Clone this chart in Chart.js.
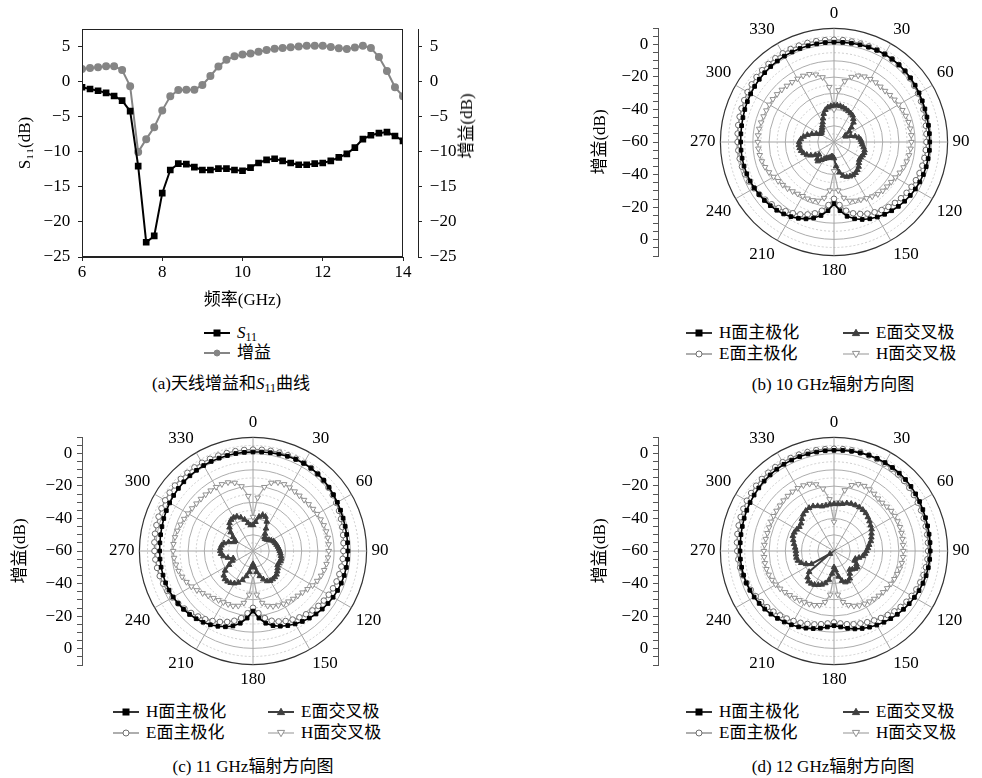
<!DOCTYPE html>
<html lang="zh">
<head>
<meta charset="utf-8">
<title>天线增益和辐射方向图</title>
<script src="https://cdn.jsdelivr.net/npm/chart.js@4.4.1/dist/chart.umd.min.js"></script>
<style>
  html, body { margin: 0; padding: 0; background: #fff; }
  body { position: relative; width: 982px; height: 778px; overflow: hidden;
         font-family: 'Liberation Serif', 'Noto Sans CJK SC', serif; color: #000; }
  canvas { position: absolute; }
  .cap, .leg, .vt { position: absolute; font-size: 17px; line-height: 18px; white-space: nowrap; }
  .cap { transform: translateX(-50%); }
  .leg { display: flex; align-items: center; }
  .leg svg { margin-right: 7px; flex: none; }
  .vt { transform: translate(-50%, -50%) rotate(-90deg); }
  sub { font-size: 12px; vertical-align: -3px; line-height: 0; }
</style>
</head>
<body>
<canvas id="chartA" width="490" height="309" style="left:0;top:11px"></canvas>
<div class="vt" style="left:467px;top:126px">增益(dB)</div>
<div class="cap" style="left:231px;top:375px">(a)天线增益和<i>S</i><sub>11</sub>曲线</div>

<canvas id="axisB" width="90" height="258" style="left:570px;top:13px"></canvas>
<canvas id="polarB" width="296" height="278" style="left:682px;top:3px"></canvas>
<div class="cap" style="left:833px;top:376px">(b) 10 GHz辐射方向图</div>

<canvas id="axisC" width="84" height="258" style="left:0;top:422px"></canvas>
<canvas id="polarC" width="296" height="278" style="left:101px;top:412px"></canvas>
<div class="cap" style="left:253px;top:758px">(c) 11 GHz辐射方向图</div>

<canvas id="axisD" width="90" height="258" style="left:570px;top:422px"></canvas>
<canvas id="polarD" width="296" height="278" style="left:682px;top:412px"></canvas>
<div class="cap" style="left:833px;top:758px">(d) 12 GHz辐射方向图</div>

<script>
// (a) S11 and gain versus frequency
const freq = [6.0, 6.2, 6.4, 6.6, 6.8, 7.0, 7.2, 7.4, 7.6, 7.8, 8.0, 8.2, 8.4, 8.6, 8.8, 9.0, 9.2, 9.4, 9.6, 9.8,
  10.0, 10.2, 10.4, 10.6, 10.8, 11.0, 11.2, 11.4, 11.6, 11.8, 12.0, 12.2, 12.4, 12.6, 12.8, 13.0, 13.2, 13.4, 13.6, 13.8, 14.0];
const s11 = [-0.8, -1.05, -1.3, -1.6, -2.05, -2.7, -4.2, -12.05, -22.9, -22.0, -15.9, -12.6, -11.7, -11.75, -12.2, -12.6, -12.6, -12.4, -12.4, -12.6,
  -12.7, -12.25, -11.6, -11.15, -11.0, -11.3, -11.6, -11.85, -11.85, -11.7, -11.6, -11.3, -10.8, -10.3, -9.4, -8.2, -7.65, -7.35, -7.2, -7.75, -8.45];
const gain = [1.8, 1.95, 2.05, 2.2, 2.2, 1.65, -0.65, -10.05, -8.2, -6.5, -4.1, -2.1, -1.2, -1.15, -1.15, -0.5, 0.8, 2.15, 3.1, 3.6,
  3.85, 4.0, 4.25, 4.5, 4.7, 4.8, 4.9, 5.0, 5.1, 5.1, 5.1, 4.95, 4.75, 4.65, 4.85, 5.1, 4.8, 3.5, 1.5, -0.8, -2.1];

// pattern angles (deg), one row of 12 = 60 deg
const angles = [0, 5, 10, 15, 20, 25, 30, 35, 40, 45, 50, 55,
  60, 65, 70, 75, 80, 85, 90, 95, 100, 105, 110, 115,
  120, 125, 130, 135, 140, 145, 150, 155, 160, 165, 170, 175,
  180, 185, 190, 195, 200, 205, 210, 215, 220, 225, 230, 235,
  240, 245, 250, 255, 260, 265, 270, 275, 280, 285, 290, 295,
  300, 305, 310, 315, 320, 325, 330, 335, 340, 345, 350, 355];

// 10 GHz
const hMain10 = [1.5, 1.6, 1.8, 2.0, 2.2, 2.4, 2.5, 2.4, 2.2, 1.9, 1.5, 1.0,
  0.5, 0.0, -0.4, -0.7, -0.9, -1.0, -1.0, -1.0, -1.1, -1.2, -1.4, -1.7,
  -2.1, -2.6, -3.2, -3.9, -4.7, -5.6, -6.6, -7.8, -9.2, -11, -13.5, -17.5,
  -22, -17.5, -14, -11.5, -9.6, -8.1, -6.9, -5.9, -5.1, -4.5, -4.0, -3.6,
  -3.3, -3.0, -2.8, -2.6, -2.5, -2.5, -2.5, -2.4, -2.2, -1.9, -1.5, -1.1,
  -0.7, -0.3, 0.1, 0.4, 0.7, 0.9, 1.1, 1.2, 1.3, 1.4, 1.4, 1.5];
const eMain10 = [3.0, 3.0, 2.9, 2.8, 2.7, 2.6, 2.5, 2.3, 2.0, 1.6, 1.0, 0.4,
  -0.2, -0.8, -1.4, -2.0, -2.5, -2.8, -3.0, -3.2, -3.4, -3.6, -3.9, -4.3,
  -4.8, -5.4, -6.1, -6.9, -7.8, -8.8, -10, -11.3, -12.8, -14.5, -17, -21,
  -25, -21, -17, -14.5, -12.5, -10.8, -9.3, -8.0, -6.8, -5.7, -4.7, -3.8,
  -3.0, -2.3, -1.7, -1.3, -1.0, -0.8, -0.6, -0.4, -0.1, 0.2, 0.6, 1.0,
  1.5, 1.9, 2.3, 2.6, 2.8, 3.0, 3.1, 3.2, 3.2, 3.2, 3.1, 3.0];
const eCross10 = [-37.5, -37.3, -37.5, -38, -38.5, -39, -39.5, -40, -41.5, -43, -46, -48.5,
  -52, -52, -49, -46.5, -44.5, -43.5, -43, -42.5, -41.5, -40.5, -40.2, -40.5,
  -41, -41, -40, -38.5, -37.5, -36.8, -36.5, -36.7, -37.2, -38.5, -41, -45,
  -50, -51, -51, -50, -49.5, -49, -48, -46.5, -44.5, -45.5, -48, -46,
  -43.5, -41.5, -40, -39, -38.5, -38.3, -38.5, -39.5, -41, -43, -45.5, -48,
  -50, -50.5, -50, -49.5, -48.5, -47.5, -46, -44, -41.5, -39.5, -38.3, -37.7];
const hCross10 = [-40, -28, -22, -18.5, -16.5, -15.5, -15.2, -15.2, -15.5, -15.5, -15, -14.5,
  -14, -13.5, -13, -12.5, -12.3, -12.2, -12.3, -12.6, -13, -13.6, -14.4, -15.3,
  -16.3, -17, -17.3, -17.5, -18, -19, -20, -20.8, -21.5, -22.5, -25, -30,
  -42, -30, -25, -22.5, -21.8, -21.5, -21.5, -21, -20.3, -19.5, -18.8, -18,
  -17, -15.8, -14.8, -14, -13.5, -13.2, -13, -13, -13.2, -13.5, -13.8, -14,
  -14, -14, -14.2, -14.5, -14.8, -15, -15, -15, -15.5, -17, -19.5, -26];

// 11 GHz
const hMain11 = [1.0, 1.2, 1.5, 1.8, 2.1, 2.3, 2.4, 2.3, 2.0, 1.6, 1.1, 0.5,
  0.0, -0.5, -0.9, -1.2, -1.4, -1.5, -1.5, -1.5, -1.6, -1.8, -2.1, -2.5,
  -3.0, -3.6, -4.3, -5.1, -6.0, -7.0, -8.1, -9.3, -10.7, -12.4, -14.8, -18.5,
  -23, -18.5, -14.8, -12.2, -10.3, -8.8, -7.5, -6.4, -5.5, -4.7, -4.1, -3.6,
  -3.2, -2.9, -2.7, -2.6, -2.5, -2.5, -2.5, -2.4, -2.2, -1.9, -1.5, -1.1,
  -0.7, -0.3, 0.0, 0.3, 0.5, 0.7, 0.8, 0.9, 0.9, 0.9, 1.0, 1.0];
const eMain11 = [2.5, 2.6, 2.7, 2.8, 2.8, 2.8, 2.7, 2.4, 2.0, 1.4, 0.7, 0.0,
  -0.7, -1.5, -2.3, -3.0, -3.6, -4.0, -4.3, -4.5, -4.7, -4.9, -5.2, -5.6,
  -6.1, -6.7, -7.4, -8.2, -9.1, -10.1, -11.2, -12.4, -13.8, -15.5, -18, -21.5,
  -25, -21.5, -18, -15.5, -13.5, -11.8, -10.2, -8.7, -7.3, -6.0, -4.8, -3.7,
  -2.7, -1.8, -1.1, -0.5, 0.0, 0.4, 0.7, 1.0, 1.3, 1.6, 1.9, 2.2,
  2.5, 2.7, 2.8, 2.9, 2.9, 2.9, 2.8, 2.7, 2.6, 2.5, 2.5, 2.5];
const eCross11 = [-44, -42, -38.5, -37, -37.5, -40, -44, -47, -49, -49.5, -49, -48,
  -47, -46, -45.5, -45, -44.5, -44, -43.5, -43, -42.5, -42, -42, -42.5,
  -42.5, -41.5, -40.5, -39.5, -39, -38.8, -38.8, -39.5, -41.5, -44, -47, -50,
  -52, -50, -47, -44, -41, -38.5, -37, -36, -35.5, -35.5, -36.5, -39,
  -43, -46, -47, -44, -41.5, -40.2, -39.8, -39.8, -40.3, -41.5, -44, -47,
  -47.5, -45, -42, -39.5, -37.5, -36.5, -36.2, -36.5, -38, -40, -42.5, -44];
const hCross11 = [-39, -27, -20, -16.5, -15, -14.6, -14.8, -15.2, -15.5, -15.5, -15.2, -14.8,
  -14.4, -14, -13.6, -13.3, -13.2, -13.2, -13.3, -13.6, -14, -14.6, -15.4, -16.4,
  -17.6, -19, -20.2, -21, -21.5, -22, -22.5, -23, -23.8, -25, -27.5, -33,
  -45, -33, -27.5, -25, -24, -23.8, -23.5, -23, -22.2, -21, -19.5, -17.8,
  -16.2, -14.8, -13.5, -12.5, -11.8, -11.2, -10.8, -10.8, -11.2, -11.8, -12.5, -13.2,
  -13.8, -14.2, -14.5, -14.6, -14.6, -14.5, -14.5, -14.6, -15, -16.5, -19.5, -26];

// 12 GHz
const hMain12 = [2.0, 2.2, 2.4, 2.6, 2.8, 2.9, 2.9, 2.8, 2.6, 2.3, 1.9, 1.4,
  0.9, 0.4, 0.0, -0.3, -0.5, -0.6, -0.7, -0.8, -1.0, -1.3, -1.7, -2.2,
  -2.8, -3.4, -4.1, -4.8, -5.6, -6.4, -7.3, -8.2, -9.2, -10.3, -11.6, -13,
  -14, -13, -11.7, -10.5, -9.4, -8.4, -7.5, -6.6, -5.8, -5.0, -4.3, -3.7,
  -3.2, -2.8, -2.5, -2.3, -2.2, -2.1, -2.1, -2.0, -1.8, -1.5, -1.1, -0.7,
  -0.3, 0.1, 0.5, 0.9, 1.2, 1.5, 1.7, 1.8, 1.9, 1.9, 1.9, 2.0];
const eMain12 = [3.0, 3.0, 3.0, 2.9, 2.7, 2.5, 2.2, 1.9, 1.5, 1.1, 0.6, 0.1,
  -0.4, -0.8, -1.2, -1.5, -1.7, -1.9, -2.0, -2.2, -2.5, -2.9, -3.4, -4.0,
  -4.7, -5.5, -6.4, -7.4, -8.5, -9.6, -10.6, -11.6, -12.5, -13.3, -14.2, -15.2,
  -16, -15.2, -14.2, -13.2, -12.2, -11.2, -10.2, -9.2, -8.2, -7.2, -6.2, -5.2,
  -4.3, -3.4, -2.6, -1.9, -1.3, -0.8, -0.4, 0.0, 0.4, 0.8, 1.2, 1.6,
  2.0, 2.3, 2.6, 2.8, 3.0, 3.1, 3.2, 3.2, 3.2, 3.1, 3.1, 3.0];
const eCross12 = [-31, -31, -30.5, -29.5, -29, -28.8, -28.8, -29, -29.5, -30.5, -31.5, -32.5,
  -33.2, -34.5, -35.5, -36.5, -38, -39, -40, -40.8, -42, -44, -46, -46,
  -44, -42.5, -43, -44, -45, -43, -40.5, -39.5, -39.5, -41, -44, -48,
  -50, -46, -42, -39.5, -38, -37, -36, -35.5, -35.5, -37, -40, -57,
  -44, -41, -38.5, -37, -36.5, -36.5, -36.5, -36, -35, -34, -33, -33,
  -33.5, -34, -33.5, -32, -30.5, -29.7, -29.3, -29.5, -30.5, -31.5, -31.5, -31.2];
const hCross12 = [-42, -30, -22, -18, -16.2, -15.8, -16.2, -17, -17.8, -18, -17.5, -17,
  -16.8, -16.8, -16.8, -17, -17.2, -17.3, -17.3, -17.3, -17.5, -18, -18.5, -19,
  -19.5, -20, -20.5, -21, -21.5, -22, -22.5, -23, -24, -25.5, -28, -33,
  -45, -33, -28, -25.5, -24.5, -24, -23.5, -23, -22.3, -21.5, -20.5, -19.5,
  -18.5, -17.8, -17.2, -16.9, -16.8, -16.8, -16.8, -17, -17.3, -17.5, -17.5, -17.3,
  -17, -16.8, -16.5, -16, -15.7, -15.4, -15.3, -15.4, -16, -17.5, -21, -28];

const curveNames = ['S11', '增益'];
const patternNames = ['H面主极化', 'E面交叉极', 'E面主极化', 'H面交叉极'];

const FONT = "'Liberation Serif', 'Noto Sans CJK SC', serif";
Chart.defaults.font.family = FONT;
Chart.defaults.font.size = 17;
Chart.defaults.color = '#000';

const minus = (v) => (v < 0 ? '\u2212' + Math.abs(v) : String(v));

// series look, shared by the charts and the html legends
const look = {
  'S11':      { line: '#000', lw: 2, shape: 'rect', fill: '#000', stroke: '#000' },
  '增益':      { line: '#858585', lw: 2, shape: 'circle', fill: '#858585', stroke: '#858585' },
  'H面主极化': { line: '#000', lw: 1.6, shape: 'rect', fill: '#000', stroke: '#000' },
  'E面主极化': { line: '#8c8c8c', lw: 1.4, shape: 'circle', fill: '#fff', stroke: '#6e6e6e' },
  'E面交叉极': { line: '#3f3f3f', lw: 2, shape: 'up', fill: '#3f3f3f', stroke: '#3f3f3f' },
  'H面交叉极': { line: '#a6a6a6', lw: 1.2, shape: 'down', fill: '#fff', stroke: '#909090' }
};

const frame = {
  id: 'frame',
  afterDraw(chart) {
    const { ctx, chartArea: a } = chart;
    ctx.save();
    ctx.strokeStyle = '#222';
    ctx.lineWidth = 1;
    ctx.strokeRect(Math.round(a.left) + 0.5, Math.round(a.top) + 0.5,
      Math.round(a.right - a.left) - 1, Math.round(a.bottom - a.top) - 1);
    ctx.restore();
  }
};

const axisGrid = { drawOnChartArea: false, tickLength: 4, color: '#222' };

new Chart(document.getElementById('chartA'), {
  type: 'line',
  data: {
    datasets: [
      {
        label: curveNames[0], yAxisID: 'y',
        data: freq.map((f, i) => ({ x: f, y: s11[i] })),
        borderColor: look['S11'].line, backgroundColor: look['S11'].fill,
        borderWidth: 2, pointStyle: 'rect', pointRadius: 3.3, tension: 0
      },
      {
        label: curveNames[1], yAxisID: 'yG',
        data: freq.map((f, i) => ({ x: f, y: gain[i] })),
        borderColor: look['增益'].line, backgroundColor: look['增益'].fill,
        borderWidth: 2, pointStyle: 'circle', pointRadius: 3, tension: 0
      }
    ]
  },
  options: {
    responsive: false, animation: false, devicePixelRatio: 1,
    layout: { padding: 0 },
    plugins: { legend: { display: false }, tooltip: { enabled: false } },
    scales: {
      x: {
        type: 'linear', min: 6, max: 14,
        ticks: { stepSize: 2, padding: 1 },
        grid: axisGrid, border: { color: '#222' },
        title: { display: true, text: '频率(GHz)', padding: { top: 0, bottom: 9 } },
        afterFit: (s) => { s.height = 63; }
      },
      y: {
        position: 'left', min: -25, max: 7.5,
        ticks: { stepSize: 5, includeBounds: false, padding: 7.8, callback: minus },
        grid: axisGrid, border: { color: '#222' },
        title: { display: true, text: 'S₁₁(dB)', padding: { top: 15 } },
        afterFit: (s) => { s.width = 82; }
      },
      gap: {
        position: 'right',
        ticks: { display: false }, grid: { display: false }, border: { display: false },
        afterFit: (s) => { s.width = 15; }
      },
      yG: {
        position: 'right', min: -25, max: 7.5,
        ticks: { stepSize: 5, includeBounds: false, padding: 7.8, callback: minus },
        grid: axisGrid, border: { color: '#222' },
        afterFit: (s) => { s.width = 72; }
      }
    }
  },
  plugins: [frame]
});

function gainAxis(id, axisWidth, titlePad) {
  new Chart(document.getElementById(id), {
    type: 'line',
    data: { datasets: [] },
    options: {
      responsive: false, animation: false, devicePixelRatio: 1,
      layout: { padding: 0 },
      plugins: { legend: { display: false }, tooltip: { enabled: false } },
      scales: {
        x: { display: false },
        y: {
          min: -70, max: 70,
          ticks: {
            stepSize: 5, autoSkip: false, padding: 4.8,
            callback: (v) => (v % 20 === 0 ? minus(Math.abs(v) - 60) : '')
          },
          grid: { drawOnChartArea: false, tickLength: 5, color: '#555' },
          border: { color: '#555' },
          title: { display: true, text: '增益(dB)', padding: { top: titlePad } },
          afterFit: (s) => { s.width = axisWidth; }
        }
      }
    }
  });
}

function ring(name, values) {
  const s = look[name];
  const shape = s.shape === 'up' || s.shape === 'down' ? 'triangle' : s.shape;
  return {
    label: name, data: values, fill: false, tension: 0,
    borderColor: s.line, borderWidth: s.lw,
    pointStyle: shape, pointRotation: s.shape === 'down' ? 180 : 0,
    pointRadius: shape === 'triangle' ? 3.2 : (shape === 'rect' ? 2.6 : 2.8),
    pointBackgroundColor: s.fill, pointBorderColor: s.stroke, pointBorderWidth: 1
  };
}

function pattern(id, hM, eX, eM, hX) {
  new Chart(document.getElementById(id), {
    type: 'radar',
    data: {
      labels: angles.map(String),
      datasets: [
        ring(patternNames[0], hM),
        ring(patternNames[2], eM),
        ring(patternNames[1], eX),
        ring(patternNames[3], hX)
      ]
    },
    options: {
      responsive: false, animation: false, devicePixelRatio: 1,
      plugins: { legend: { display: false }, tooltip: { enabled: false } },
      scales: {
        r: {
          min: -60, max: 10, startAngle: 0,
          ticks: { display: false, stepSize: 5 },
          grid: {
            circular: true,
            color: (c) => (!c.tick ? '#bbb' : c.tick.value === 10 ? '#333' : (c.tick.value % 10 === 0 ? '#acacac' : '#cdcdcd')),
            lineWidth: (c) => (c.tick && c.tick.value === 10 ? 1.2 : 1)
          },
          border: { dash: (c) => (c.tick && c.tick.value % 10 !== 0 ? [2, 2] : []) },
          angleLines: { color: '#a4a4a4', lineWidth: (c) => (c.index % 6 === 0 ? 1 : 0) },
          pointLabels: {
            padding: 5, color: '#000', font: { size: 17 },
            callback: (label, i) => (i % 6 === 0 ? label : '')
          }
        }
      }
    }
  });
}

function glyph(name) {
  const s = look[name];
  let m = '';
  if (s.shape === 'rect') m = `<rect x="10" y="3" width="6" height="6" fill="${s.fill}" stroke="${s.stroke}"/>`;
  if (s.shape === 'circle') m = `<circle cx="13" cy="6" r="3" fill="${s.fill}" stroke="${s.stroke}"/>`;
  if (s.shape === 'up') m = `<polygon points="13,2.3 16.6,8.6 9.4,8.6" fill="${s.fill}" stroke="${s.stroke}"/>`;
  if (s.shape === 'down') m = `<polygon points="13,9.7 16.6,3.4 9.4,3.4" fill="${s.fill}" stroke="${s.stroke}"/>`;
  return `<svg width="26" height="12" viewBox="0 0 26 12"><line x1="0" y1="6" x2="26" y2="6" stroke="${s.line}" stroke-width="${s.lw}"/>${m}</svg>`;
}

function legend(names, spots, textFor) {
  names.forEach((name, i) => {
    const d = document.createElement('div');
    d.className = 'leg';
    d.style.left = spots[i][0] + 'px';
    d.style.top = spots[i][1] + 'px';
    d.innerHTML = glyph(name) + '<span>' + (textFor ? textFor(name) : name) + '</span>';
    document.body.appendChild(d);
  });
}

gainAxis('axisB', 88, 20);
gainAxis('axisC', 82, 10);
gainAxis('axisD', 88, 20);

pattern('polarB', hMain10, eCross10, eMain10, hCross10);
pattern('polarC', hMain11, eCross11, eMain11, hCross11);
pattern('polarD', hMain12, eCross12, eMain12, hCross12);

legend(curveNames, [[204, 324], [204, 344]], (n) => (n === 'S11' ? '<i>S</i><sub>11</sub>' : n));
legend(patternNames, [[686, 324], [843, 324], [686, 345], [843, 345]]);
legend(patternNames, [[113, 703], [268, 703], [113, 724], [268, 724]]);
legend(patternNames, [[686, 703], [843, 703], [686, 724], [843, 724]]);
</script>
</body>
</html>
